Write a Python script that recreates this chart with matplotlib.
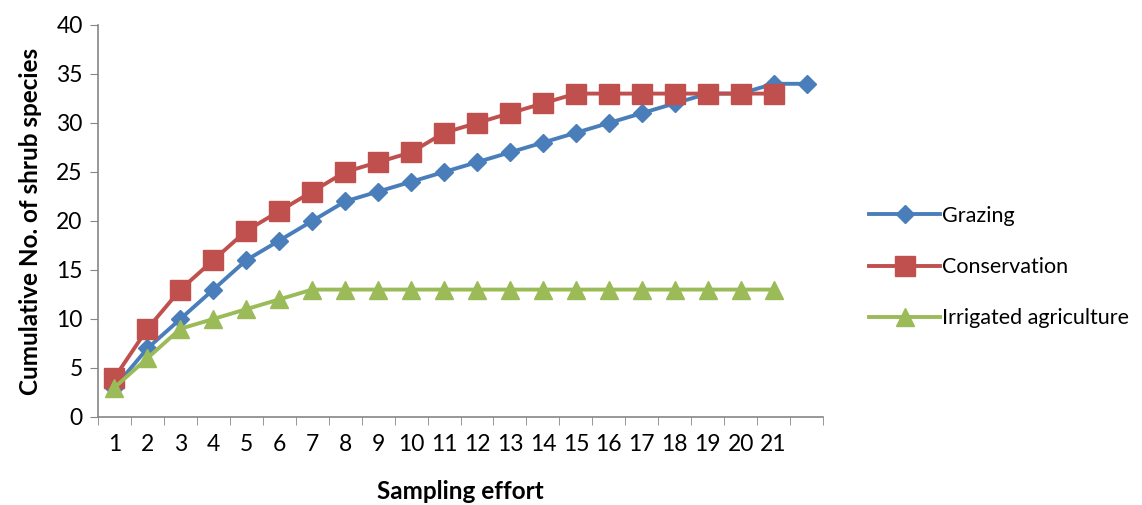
import matplotlib
matplotlib.use('Agg')
import matplotlib.pyplot as plt
import numpy as np

# data
effort = list(range(1, 23))
grazing = [3, 7, 10, 13, 16, 18, 20, 22, 23, 24, 25, 26, 27, 28, 29, 30, 31, 32, 33, 33, 34, 34]
conservation = [4, 9, 13, 16, 19, 21, 23, 25, 26, 27, 29, 30, 31, 32, 33, 33, 33, 33, 33, 33, 33]
irrigated = [3, 6, 9, 10, 11, 12, 13, 13, 13, 13, 13, 13, 13, 13, 13, 13, 13, 13, 13, 13, 13]
tick_labels = [str(i) for i in range(1, 22)] + ['']

plt.rcParams['font.family'] = ['Lato', 'DejaVu Sans']

fig = plt.figure(figsize=(11.42, 5.05), dpi=100)
ax = fig.add_axes([0.0858, 0.1743, 0.6349, 0.7762])

ax.plot(effort, grazing, color='#4A7EBB', lw=2.8, marker='D', ms=9.5, label='Grazing')
ax.plot(effort[:len(conservation)], conservation, color='#C0504D', lw=2.8, marker='s', ms=14, label='Conservation')
ax.plot(effort[:len(irrigated)], irrigated, color='#9BBB59', lw=2.8, marker='^', ms=13, label='Irrigated agriculture')

ax.set_xlim(0.5, len(effort) + 0.5)
ax.set_ylim(0, 40)
ax.set_yticks(np.arange(0, 41, 5))
ax.set_xticks(effort)
ax.set_xticklabels(tick_labels)
ax.set_xticks(np.arange(0.5, len(effort) + 1, 1), minor=True)
ax.tick_params(axis='x', which='major', length=0, pad=12, labelsize=16.5)
ax.tick_params(axis='x', which='minor', length=6, color='#868686', direction='out')
ax.tick_params(axis='y', length=6, color='#868686', direction='out', labelsize=16.5, pad=5)

for s in ['top', 'right']:
    ax.spines[s].set_visible(False)
for s in ['left', 'bottom']:
    ax.spines[s].set_color('#868686')
    ax.spines[s].set_linewidth(1.2)

ax.set_xlabel('Sampling effort', fontsize=17.5, fontweight='bold', labelpad=18)
ax.set_ylabel('Cumulative No. of shrub species', fontsize=17.5, fontweight='bold', labelpad=10)

ax.legend(loc='center left', bbox_to_anchor=(0.744, 0.471), bbox_transform=fig.transFigure,
          frameon=False, fontsize=15.5, handlelength=3.3, handletextpad=0.1, labelspacing=1.45)

fig.savefig('out.png', dpi=100)
